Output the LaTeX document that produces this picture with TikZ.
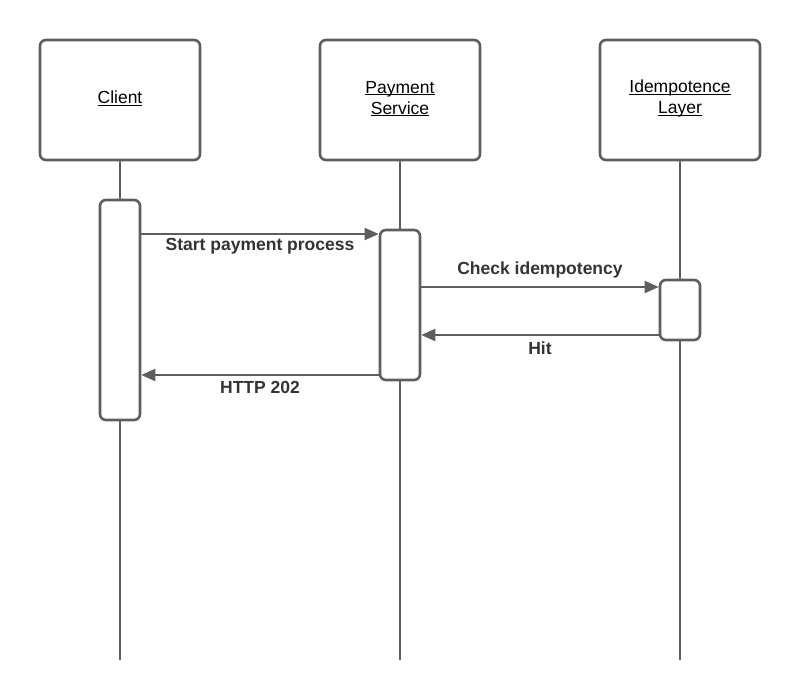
\documentclass[tikz,border=0pt]{standalone}
\usepackage{fontspec}
\setmainfont{Liberation Sans}
\usetikzlibrary{arrows.meta}
\definecolor{strokegray}{HTML}{5E5E5E}
\definecolor{textgray}{HTML}{333333}
% underline set close under the text, as in the participant boxes
\newcommand{\ulname}[1]{\setbox0\hbox{#1}\rlap{\rule[-2pt]{\wd0}{0.9pt}}\box0}
\begin{document}
\begin{tikzpicture}[x=1pt,y=-1pt,
  actor/.style={draw=strokegray,line width=2.6pt,rounded corners=6pt,fill=white,
    minimum width=160pt,minimum height=120pt},
  actorlbl/.style={align=center,text=black,inner sep=0pt,
    font=\fontsize{17.5}{21}\selectfont},
  actbar/.style={draw=strokegray,line width=2.6pt,rounded corners=6pt,fill=white,
    minimum width=40pt,inner sep=0pt},
  lifeline/.style={draw=strokegray,line width=1.5pt},
  msg/.style={draw=strokegray,line width=2pt,-{Triangle[length=14pt,width=12pt]}},
  msglabel/.style={text=textgray,font=\bfseries\fontsize{17.5}{21}\selectfont,inner sep=0pt}]
\useasboundingbox (0,0) rectangle (800,700);
\fill[white] (0,0) rectangle (800,700);

% lifelines
\coordinate (cl0) at (120,160); \coordinate (cl1) at (120,660);
\coordinate (ps0) at (400,160); \coordinate (ps1) at (400,660);
\coordinate (il0) at (680,160); \coordinate (il1) at (680,660);
\draw[lifeline] (cl0) -- (cl1);
\draw[lifeline] (ps0) -- (ps1);
\draw[lifeline] (il0) -- (il1);

% participants
\node[actor] (client) at (120,100) {};
\node[actorlbl] (clientlbl) at (120,98.5) {\ulname{Client}};
\node[actor] (pay) at (400,100) {};
\node[actorlbl] (paylbl) at (400,98.5) {\ulname{Payment}\\\ulname{Service}};
\node[actor] (idem) at (680,100) {};
\node[actorlbl] (idemlbl) at (680,98.5) {\ulname{Idempotence}\\\ulname{Layer}};

% activation bars
\node[actbar,minimum height=220pt] (cbar) at (120,310) {};
\node[actbar,minimum height=150pt] (pbar) at (400,305) {};
\node[actbar,minimum height=60pt] (ibar) at (680,310) {};

% messages
\draw[msg] (cbar.east |- 0,234) -- (pbar.west |- 0,234);
\node[msglabel] (m1) at (260,246.5) {Start payment process};
\draw[msg] (pbar.east |- 0,287) -- (ibar.west |- 0,287);
\node[msglabel] (m2) at (540,270) {Check idempotency};
\draw[msg] (ibar.west |- 0,335) -- (pbar.east |- 0,335);
\node[msglabel] (m3) at (540,348) {Hit};
\draw[msg] (pbar.west |- 0,375) -- (cbar.east |- 0,375);
\node[msglabel] (m4) at (260,387.5) {HTTP 202};
\end{tikzpicture}
\end{document}
